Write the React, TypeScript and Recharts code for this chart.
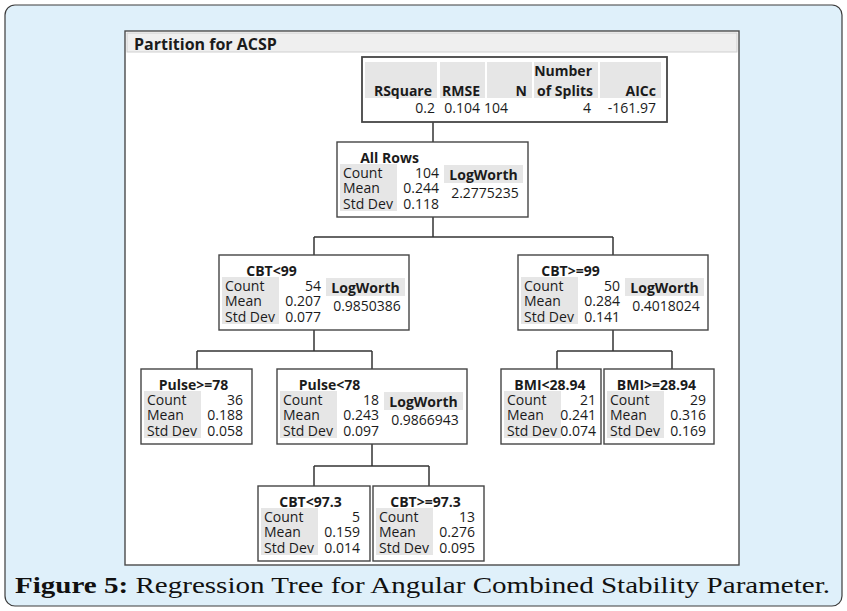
// Partition tree (JMP style) drawn on a Recharts canvas: nodes are scatter
// points with a custom box shape, connectors are ReferenceLine segments.
import {
  ComposedChart, ReferenceArea, ReferenceLine, Scatter, XAxis, YAxis,
} from "recharts";

const W = 847;
const H = 611;
const FONT = "'Open Sans', 'Noto Sans', sans-serif";
const INK = "#1b1b1b";
const EDGE = "#454545";
const CELL = "#e6e6e6";
const SKY = "#dff0fa";

// ---- data -----------------------------------------------------------------
const chartTitle = "Partition for ACSP";
const captionLead = "Figure 5:";
const captionText = " Regression Tree for Angular Combined Stability Parameter.";

const summaryHeads = ["RSquare", "RMSE", "N", "of Splits", "AICc"];
const summaryHeadsTop = ["", "", "", "Number", ""];
const summaryValues = ["0.2", "0.104", "104", "4", "-161.97"];

const nodeNames = [
  "All Rows", "CBT<99", "CBT>=99", "Pulse>=78", "Pulse<78",
  "BMI<28.94", "BMI>=28.94", "CBT<97.3", "CBT>=97.3",
];
const nodeCounts = ["104", "54", "50", "36", "18", "21", "29", "5", "13"];
const nodeMeans = ["0.244", "0.207", "0.284", "0.188", "0.243", "0.241", "0.316", "0.159", "0.276"];
const nodeStdDevs = ["0.118", "0.077", "0.141", "0.058", "0.097", "0.074", "0.169", "0.014", "0.095"];
const nodeLogWorths = ["2.2775235", "0.9850386", "0.4018024", "", "0.9866943", "", "", "", ""];
const nodeParents = [-1, 0, 0, 1, 1, 2, 2, 4, 4];
const statLabels = ["Count", "Mean", "Std Dev"];

// ---- layout (diagram units; the axes map 1 unit to 1 px) -------------------
const nodeLevel = [0, 1, 1, 2, 2, 2, 2, 3, 3];
const levelTop = [142, 255, 369, 486];
const barY = [237, 351, 466];
const nodeLeft = [337, 219, 518, 141, 277, 501, 604, 258, 373];
const nodeWidth = [191, 190, 190, 111, 190, 100, 110, 112, 111];
const linkX = [433, 314, 613, 197, 372, 557, 672, 314, 429];
const BOX_H = 75;

const SUM = { x: 362, y: 57, w: 305, h: 65 };
const sumColLeft = [3, 78, 125, 172, 238];
const sumColRight = [75, 123, 170, 236, 299];
const sumValueRight = [73, 118, 146, 229, 294];

const nodes = nodeNames.map((name, i) => ({
  x: nodeLeft[i],
  y: levelTop[nodeLevel[i]],
  w: nodeWidth[i],
  name,
  stats: [nodeCounts[i], nodeMeans[i], nodeStdDevs[i]],
  logWorth: nodeLogWorths[i],
}));

type Seg = [{ x: number; y: number }, { x: number; y: number }];
const segments: Seg[] = [
  [{ x: linkX[0], y: SUM.y + SUM.h }, { x: linkX[0], y: levelTop[0] }],
];
nodeNames.forEach((_, p) => {
  const kids = nodeParents.map((q, i) => (q === p ? i : -1)).filter((i) => i >= 0);
  if (!kids.length) return;
  const lv = nodeLevel[p];
  const by = barY[lv];
  const xs = kids.map((k) => linkX[k]);
  segments.push([{ x: linkX[p], y: levelTop[lv] + BOX_H }, { x: linkX[p], y: by }]);
  segments.push([{ x: Math.min(...xs), y: by }, { x: Math.max(...xs), y: by }]);
  kids.forEach((k) =>
    segments.push([{ x: linkX[k], y: by }, { x: linkX[k], y: levelTop[nodeLevel[k]] }])
  );
});

// ---- shapes ---------------------------------------------------------------
function NodeBox(props: any) {
  const { cx: L, cy: T, payload: n } = props;
  const valRight = L + Math.min(102, n.w - 5);
  const mid = (L + 3 + valRight) / 2;
  const rowY = [T + 30, T + 45.5, T + 61];
  return (
    <g fontFamily={FONT} fontSize={14} fill={INK}>
      <rect x={L} y={T} width={n.w} height={BOX_H} fill="#fff" stroke={EDGE} strokeWidth={1.4} />
      <text x={mid} y={T + 15} textAnchor="middle" dominantBaseline="central" fontWeight={700}>
        {n.name}
      </text>
      <rect x={L + 3} y={T + 22} width={57} height={47} fill={CELL} />
      {statLabels.map((s, i) => (
        <g key={s}>
          <text x={L + 6} y={rowY[i]} dominantBaseline="central">{s}</text>
          <text x={valRight} y={rowY[i]} textAnchor="end" dominantBaseline="central">
            {n.stats[i]}
          </text>
        </g>
      ))}
      {n.logWorth && (
        <g>
          <rect x={L + 107} y={T + 23} width={79} height={18} fill={CELL} />
          <text x={L + 146.5} y={T + 32.5} textAnchor="middle" dominantBaseline="central" fontWeight={700}>
            LogWorth
          </text>
          <text x={L + 148} y={T + 50} textAnchor="middle" dominantBaseline="central">
            {n.logWorth}
          </text>
        </g>
      )}
    </g>
  );
}

function SummaryBox(props: any) {
  const { cx: L, cy: T } = props;
  return (
    <g fontFamily={FONT} fontSize={14} fill={INK}>
      <rect x={L} y={T} width={SUM.w} height={SUM.h} fill="#fff" stroke={EDGE} strokeWidth={1.8} />
      {summaryHeads.map((h, i) => (
        <g key={h}>
          <rect
            x={L + sumColLeft[i]} y={T + 5}
            width={sumColRight[i] - sumColLeft[i]} height={36} fill={CELL}
          />
          {summaryHeadsTop[i] && (
            <text x={L + sumColRight[i] - 6} y={T + 13} textAnchor="end" dominantBaseline="central" fontWeight={700}>
              {summaryHeadsTop[i]}
            </text>
          )}
          <text x={L + sumColRight[i] - 5} y={T + 33} textAnchor="end" dominantBaseline="central" fontWeight={700}>
            {h}
          </text>
          <text x={L + sumValueRight[i]} y={T + 50} textAnchor="end" dominantBaseline="central">
            {summaryValues[i]}
          </text>
        </g>
      ))}
    </g>
  );
}

const frameShape = (p: any) => (
  <rect x={p.x} y={p.y} width={p.width} height={p.height} rx={10} fill={SKY} stroke="#3c3c3c" strokeWidth={1.2} />
);
const panelShape = (p: any) => (
  <rect x={p.x} y={p.y} width={p.width} height={p.height} fill="#fff" stroke="#4a4a4a" strokeWidth={1.4} />
);
const titleShape = (p: any) => (
  <g>
    <rect x={p.x} y={p.y} width={p.width} height={p.height} fill="#efefef" stroke="#cfcfcf" strokeWidth={1} />
    <text x={p.x + 7} y={p.y + p.height / 2 + 1} dominantBaseline="central"
      fontFamily={FONT} fontSize={16} fontWeight={700} fill={INK}>
      {chartTitle}
    </text>
  </g>
);
const captionShape = (p: any) => (
  <text x={p.x} y={p.y + p.height - 6} fontFamily="'Liberation Serif', serif" fontSize={24} fill="#111"
    textLength={p.width} lengthAdjust="spacingAndGlyphs">
    <tspan fontWeight={700}>{captionLead}</tspan>
    {captionText}
  </text>
);

export default function App() {
  return (
    <div style={{ position: "absolute", left: 0, top: 0, width: W, height: H, background: "#fff" }}>
      <ComposedChart width={W} height={H} margin={{ top: 0, right: 0, bottom: 0, left: 0 }}>
        <XAxis type="number" dataKey="x" domain={[0, W]} hide allowDataOverflow />
        <YAxis type="number" dataKey="y" domain={[0, H]} reversed hide allowDataOverflow />
        <ReferenceArea x1={5} x2={842} y1={5} y2={606} shape={frameShape} />
        <ReferenceArea x1={125} x2={739} y1={31} y2={565} shape={panelShape} />
        <ReferenceArea x1={127} x2={737} y1={33} y2={52} shape={titleShape} />
        <ReferenceArea x1={15} x2={830} y1={572} y2={599} shape={captionShape} />
        {segments.map((s, i) => (
          <ReferenceLine key={i} segment={s} stroke="#333" strokeWidth={1.5} />
        ))}
        <Scatter data={[{ x: SUM.x, y: SUM.y }]} shape={SummaryBox} isAnimationActive={false} />
        <Scatter data={nodes} shape={NodeBox} isAnimationActive={false} />
      </ComposedChart>
    </div>
  );
}
